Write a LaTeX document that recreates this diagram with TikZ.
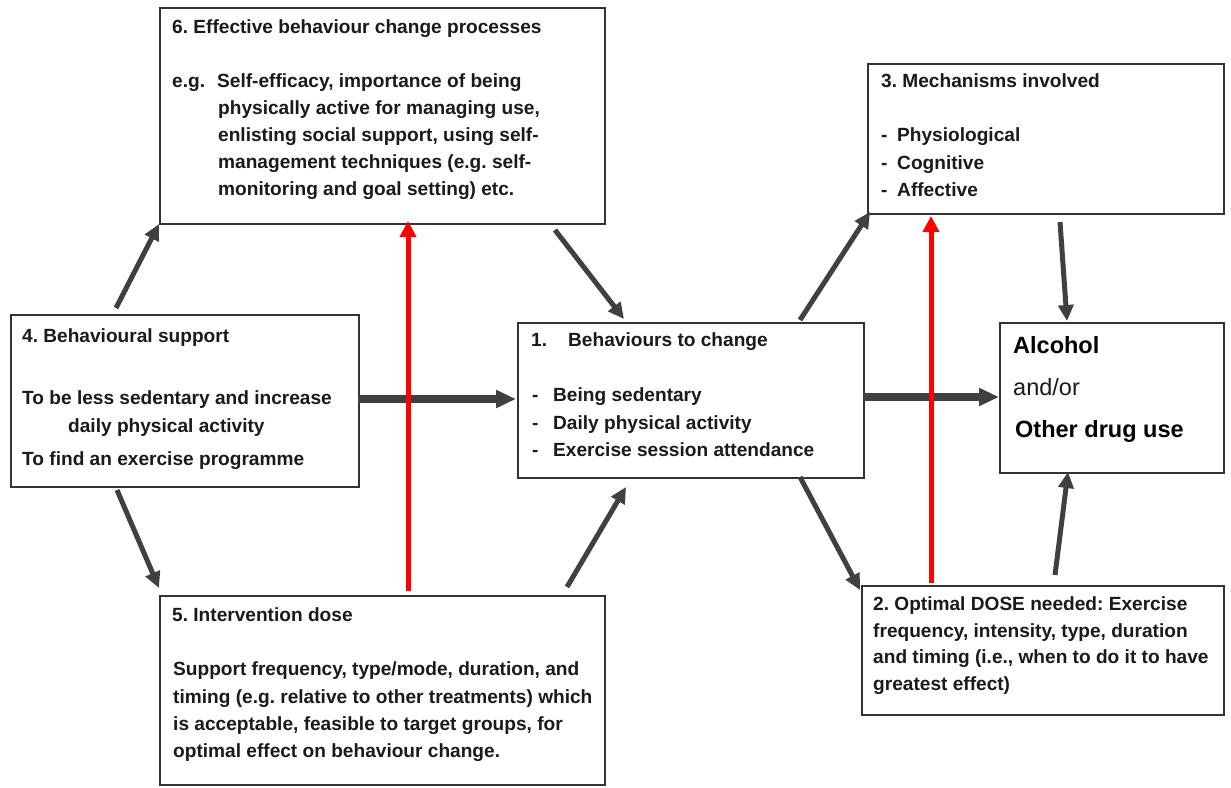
\documentclass[tikz,border=0pt]{standalone}
\usepackage{fontspec}
\setmainfont{Liberation Sans}
\usetikzlibrary{arrows.meta}
\frenchspacing
\definecolor{arrowgray}{HTML}{404040}
\definecolor{boxline}{HTML}{333333}
\definecolor{txt}{HTML}{1A1A1A}
\definecolor{redline}{HTML}{FF0000}
\tikzset{
  box/.style={draw=boxline, line width=1.5pt, inner sep=0pt, anchor=north west, fill=white},
  tx/.style={anchor=base west, inner sep=0pt, text=txt, font=\fontsize{19.1}{27}\selectfont\bfseries\frenchspacing},
  big/.style={anchor=base west, inner sep=0pt, text=black, font=\fontsize{23.5}{28}\selectfont\bfseries},
  bigreg/.style={anchor=base west, inner sep=0pt, text=txt, font=\fontsize{23.5}{28}\selectfont},
  thin/.style={draw=arrowgray, line width=5pt, -{Triangle[length=16pt,width=15pt]}},
  thick/.style={draw=arrowgray, line width=7.5pt, -{Triangle[length=20pt,width=17pt]}},
  redarr/.style={draw=redline, line width=5pt, -{Triangle[length=16pt,width=16pt]}},
}
\begin{document}
\begin{tikzpicture}[x=1pt,y=-1pt]
\useasboundingbox[fill=white] (0,0) rectangle (1231,787);

% boxes
\node[box, minimum width=445pt, minimum height=216pt] (b6) at (159,7) {};
\node[box, minimum width=348pt, minimum height=172pt] (b4) at (10,314) {};
\node[box, minimum width=346pt, minimum height=155pt] (b1) at (517,322) {};
\node[box, minimum width=356pt, minimum height=150pt] (b3) at (867,63) {};
\node[box, minimum width=224pt, minimum height=150pt] (ba) at (999,322) {};
\node[box, minimum width=445pt, minimum height=189pt] (b5) at (159,595) {};
\node[box, minimum width=362pt, minimum height=129pt] (b2) at (861,585) {};

% box 6 text
\node[tx] (t6a) at (172,33) {6. Effective behaviour change processes};
\node[tx] (t6b) at (172,87) {e.g.};
\node[tx] (t6c) at (217,87) {Self-efficacy, importance of being};
\node[tx] (t6d) at (218,114) {physically active for managing use,};
\node[tx] (t6e) at (218,141) {enlisting social support, using self-};
\node[tx] (t6f) at (218,168) {management techniques (e.g. self-};
\node[tx] (t6g) at (218,195) {monitoring and goal setting) etc.};

% box 4 text
\node[tx] (t4a) at (22,342) {4. Behavioural support};
\node[tx] (t4b) at (22,404) {To be less sedentary and increase};
\node[tx] (t4c) at (68,432) {daily physical activity};
\node[tx] (t4d) at (22,465) {To find an exercise programme};

% box 1 text
\node[tx] (t1a) at (531,346) {1.};
\node[tx] (t1b) at (568,346) {Behaviours to change};
\node[tx] (t1c) at (532,401) {-};
\node[tx] (t1d) at (553,401) {Being sedentary};
\node[tx] (t1e) at (532,429) {-};
\node[tx] (t1f) at (553,429) {Daily physical activity};
\node[tx] (t1g) at (532,456) {-};
\node[tx] (t1h) at (553,456) {Exercise session attendance};

% box 3 text
\node[tx] (t3a) at (881,87) {3. Mechanisms involved};
\node[tx] (t3b) at (881,141) {-};
\node[tx] (t3c) at (897,141) {Physiological};
\node[tx] (t3d) at (881,169) {-};
\node[tx] (t3e) at (897,169) {Cognitive};
\node[tx] (t3f) at (881,196) {-};
\node[tx] (t3g) at (897,196) {Affective};

% alcohol box text
\node[big] (tAa) at (1013,353) {Alcohol};
\node[bigreg] (tAb) at (1013,395) {and/or};
\node[big] (tAc) at (1015,437) {Other drug use};

% box 5 text
\node[tx] (t5a) at (172,621) {5. Intervention dose};
\node[tx] (t5b) at (173,675) {Support frequency, type/mode, duration, and};
\node[tx] (t5c) at (173,703) {timing (e.g. relative to other treatments) which};
\node[tx] (t5d) at (173,730) {is acceptable, feasible to target groups, for};
\node[tx] (t5e) at (173,757) {optimal effect on behaviour change.};

% box 2 text
\node[tx] (t2a) at (873,610) {2. Optimal DOSE needed: Exercise};
\node[tx] (t2b) at (873,637) {frequency, intensity, type, duration};
\node[tx] (t2c) at (873,663) {and timing (i.e., when to do it to have};
\node[tx] (t2d) at (873,690) {greatest effect)};

% connector end points
\coordinate (c46s) at (116,308);
\coordinate (c46e) at (159,224);
\coordinate (c45s) at (117,490);
\coordinate (c45e) at (159,588);
\coordinate (c61s) at (555,230);
\coordinate (c61e) at (624,319);
\coordinate (c51s) at (567,587);
\coordinate (c51e) at (626,487);
\coordinate (c41s) at (358,399);
\coordinate (c41e) at (516,399);
\coordinate (c13s) at (800,320);
\coordinate (c13e) at (870,212);
\coordinate (c12s) at (800,477);
\coordinate (c12e) at (860,590);
\coordinate (c1As) at (863,397);
\coordinate (c1Ae) at (999,397);
\coordinate (c3As) at (1060,222);
\coordinate (c3Ae) at (1067,321);
\coordinate (c2As) at (1055,575);
\coordinate (c2Ae) at (1068,472);
\coordinate (r1s) at (408,591);
\coordinate (r1e) at (408,221);
\coordinate (r2s) at (931,583);
\coordinate (r2e) at (931,216);

% dark arrows
\draw[thin] (c46s) -- (c46e);
\draw[thin] (c45s) -- (c45e);
\draw[thin] (c61s) -- (c61e);
\draw[thin] (c51s) -- (c51e);
\draw[thin] (c13s) -- (c13e);
\draw[thin] (c12s) -- (c12e);
\draw[thin] (c3As) -- (c3Ae);
\draw[thin] (c2As) -- (c2Ae);
\draw[thick] (c41s) -- (c41e);
\draw[thick] (c1As) -- (c1Ae);

% red arrows
\draw[redarr] (r1s) -- (r1e);
\draw[redarr] (r2s) -- (r2e);
\end{tikzpicture}
\end{document}
